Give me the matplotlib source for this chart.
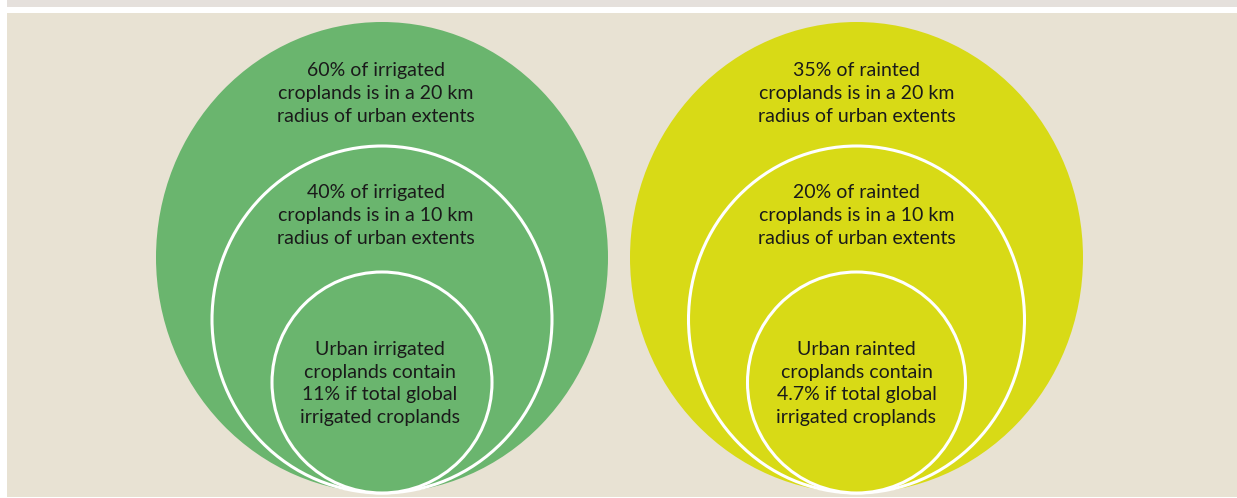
import matplotlib
matplotlib.use("Agg")
import matplotlib.pyplot as plt
from matplotlib.patches import Ellipse, Rectangle

BG = "#e8e2d3"
STRIP = "#e5e0dc"
GREEN = "#6ab56e"
YELLOW = "#d8da16"
TEXT = "#1a1a1a"

# labels for each ring, outer -> inner
irrigated_labels = [
    "60% of irrigated\ncroplands is in a 20 km\nradius of urban extents",
    "40% of irrigated\ncroplands is in a 10 km\nradius of urban extents",
    "Urban irrigated\ncroplands contain\n11% if total global\nirrigated croplands",
]
rainfed_labels = [
    "35% of rainted\ncroplands is in a 20 km\nradius of urban extents",
    "20% of rainted\ncroplands is in a 10 km\nradius of urban extents",
    "Urban rainted\ncroplands contain\n4.7% if total global\nirrigated croplands",
]

W, H = 1237, 498
fig = plt.figure(figsize=(W / 100, H / 100), dpi=100)
fig.patch.set_facecolor("white")
ax = fig.add_axes([0, 0, 1, 1])
ax.set_xlim(0, W)
ax.set_ylim(H, 0)
ax.axis("off")

ax.add_patch(Rectangle((7, 0), W - 7, 7, color=STRIP, lw=0))
ax.add_patch(Rectangle((7, 13), W - 7, 484, color=BG, lw=0))

# ring geometry in pixels: (half width, half height); all rings share a bottom
bottom = 493
text_y = [93.5, 215.5, 383.5]


def draw_group(cx, color, labels, radii, text_dx):
    for i, ((rx, ry), lab) in enumerate(zip(radii, labels)):
        cy = bottom - ry
        if i == 0:
            ax.add_patch(Ellipse((cx, cy), 2 * rx, 2 * ry, facecolor=color,
                                 edgecolor="none"))
        else:
            ax.add_patch(Ellipse((cx, cy), 2 * rx, 2 * ry, facecolor=color,
                                 edgecolor="white", lw=2.2))
        ax.text(cx + text_dx[i], text_y[i], lab, ha="center",
                va="center", fontsize=14, family="Lato", color=TEXT,
                linespacing=1.42)


draw_group(382, GREEN, irrigated_labels,
           [(226, 235.5), (170, 173.5), (110, 110.5)], [-6, -6, -2])
draw_group(856.5, YELLOW, rainfed_labels,
           [(226.5, 235.5), (168, 173.5), (109, 110.5)], [0, 0, 0])

fig.savefig("out.png", dpi=100, facecolor="white")
